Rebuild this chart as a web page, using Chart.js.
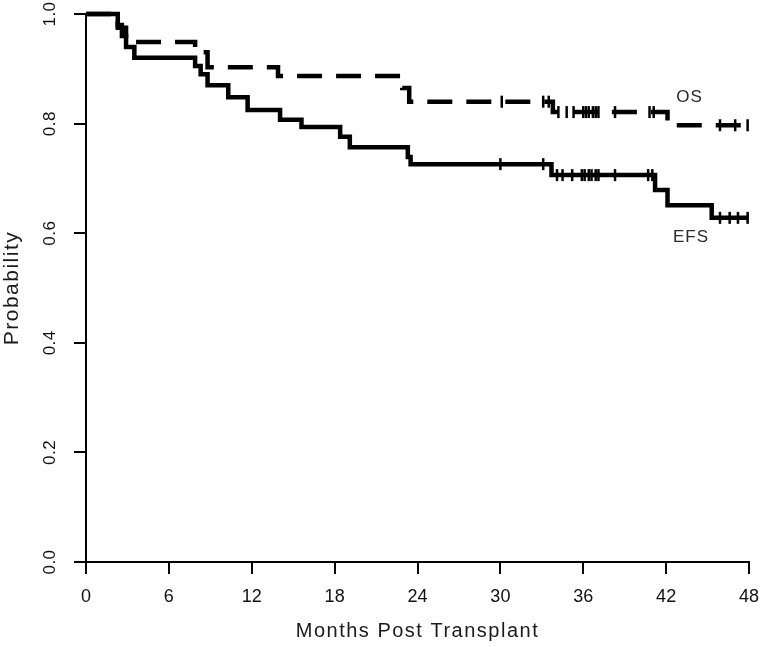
<!DOCTYPE html>
<html>
<head>
<meta charset="utf-8">
<script src="https://cdn.jsdelivr.net/npm/chart.js@4/dist/chart.umd.min.js"></script>
<style>
  html, body { margin: 0; padding: 0; background: #ffffff; }
  #c { display: block; }
</style>
</head>
<body>
<canvas id="c" width="760" height="647"></canvas>
<script>
// ---- Data (months, survival probability) ----
const efsTimes = [0, 2.3, 2.6, 2.9, 3.5, 7.9, 8.3, 8.8, 10.3, 11.7, 14.05, 15.6, 18.4, 19.1, 23.3, 23.5, 33.7, 41.2, 42.1, 45.3, 48];
const efsSurv  = [1.0, 0.98, 0.96, 0.94, 0.92, 0.905, 0.89, 0.87, 0.848, 0.825, 0.807, 0.794, 0.776, 0.757, 0.739, 0.726, 0.706, 0.679, 0.651, 0.628, 0.628];
const osTimes  = [0, 2.3, 2.9, 7.9, 8.8, 13.9, 22.9, 23.4, 33.8, 42.1, 48];
const osSurv   = [1.0, 0.975, 0.949, 0.93, 0.903, 0.887, 0.865, 0.84, 0.821, 0.797, 0.797];
const efsCensor = [30.0, 33.1, 34.1, 34.5, 35.2, 35.9, 36.1, 36.4, 36.6, 36.9, 37.1, 38.3, 40.7, 41.0, 45.9, 46.6, 47.2, 47.9];
const osCensor  = [30.1, 33.1, 33.5, 34.2, 34.8, 35.3, 36.0, 36.2, 36.4, 36.7, 36.9, 37.1, 38.3, 40.8, 41.1, 45.9, 47.0, 47.9];
const xTicks = [0, 6, 12, 18, 24, 30, 36, 42, 48];
const yTickValues = [0.0, 0.2, 0.4, 0.6, 0.8, 1.0];
const yTickLabels = ['0.0', '0.2', '0.4', '0.6', '0.8', '1.0'];
const curveLabels = ['OS', 'EFS'];
const xTitle = 'Months Post Transplant';
const yTitle = 'Probability';

function stepPoints(times, surv) {
  return times.map((t, i) => ({ x: t, y: surv[i] }));
}
function survAt(times, surv, t) {
  let v = surv[0];
  for (let i = 0; i < times.length; i++) { if (times[i] <= t) v = surv[i]; }
  return v;
}
function censorPoints(cens, times, surv) {
  return cens.map(t => ({ x: t, y: survAt(times, surv, t) }));
}

const FONT = "'Liberation Sans', Arial, Helvetica, sans-serif";

const textPlugin = {
  id: 'textPlugin',
  beforeDraw(chart) {
    chart.ctx.letterSpacing = '1.5px';
  },
  beforeDatasetsDraw(chart) {
    chart.ctx.letterSpacing = '0px';
  },
  afterDraw(chart) {
    const ctx = chart.ctx;
    const ys = chart.scales.y;
    const xs = chart.scales.x;
    ctx.save();
    ctx.letterSpacing = '0.5px';
    ctx.fillStyle = '#111111';
    ctx.font = '17px ' + FONT;
    ctx.textAlign = 'center';
    ctx.textBaseline = 'middle';
    yTickValues.forEach((v, i) => {
      const py = ys.getPixelForValue(v);
      ctx.save();
      ctx.translate(50, py);
      ctx.rotate(-Math.PI / 2);
      ctx.fillText(yTickLabels[i], 0, 0);
      ctx.restore();
    });
    // Curve labels
    ctx.fillStyle = '#2a2a2a';
    ctx.font = '17px ' + FONT;
    ctx.letterSpacing = '1px';
    ctx.fillText(curveLabels[0], xs.getPixelForValue(43.7), ys.getPixelForValue(0.848));
    ctx.fillText(curveLabels[1], xs.getPixelForValue(43.8), ys.getPixelForValue(0.593));
    ctx.restore();
  }
};

new Chart(document.getElementById('c'), {
  type: 'scatter',
  data: {
    datasets: [
      {
        label: 'OS',
        data: stepPoints(osTimes, osSurv),
        showLine: true,
        stepped: true,
        borderColor: '#000000',
        borderWidth: 4.5,
        borderDash: [25, 14],
        borderCapStyle: 'butt',
        pointRadius: 0,
        fill: false,
        clip: false
      },
      {
        label: 'EFS',
        data: stepPoints(efsTimes, efsSurv),
        showLine: true,
        stepped: true,
        borderColor: '#000000',
        borderWidth: 4.5,
        pointRadius: 0,
        fill: false,
        clip: false
      },
      {
        label: 'OS censored',
        data: censorPoints(osCensor, osTimes, osSurv),
        showLine: false,
        pointStyle: 'line',
        rotation: 90,
        pointRadius: 6,
        borderColor: '#000000',
        borderWidth: 2.5,
        clip: false
      },
      {
        label: 'EFS censored',
        data: censorPoints(efsCensor, efsTimes, efsSurv),
        showLine: false,
        pointStyle: 'line',
        rotation: 90,
        pointRadius: 6,
        borderColor: '#000000',
        borderWidth: 2.5,
        clip: false
      }
    ]
  },
  options: {
    responsive: false,
    animation: false,
    events: [],
    layout: { padding: { top: 14, right: 11, left: 0, bottom: 0 } },
    plugins: {
      legend: { display: false },
      tooltip: { enabled: false },
      title: { display: false }
    },
    scales: {
      x: {
        type: 'linear',
        min: 0,
        max: 48,
        afterBuildTicks(scale) { scale.ticks = xTicks.map(v => ({ value: v })); },
        afterFit(scale) { scale.height = 85; scale.paddingLeft = 0; scale.paddingRight = 0; },
        ticks: {
          z: 1,
          color: '#111111',
          font: { family: FONT, size: 18 },
          padding: 12,
          maxRotation: 0,
          autoSkip: false
        },
        grid: {
          drawOnChartArea: false,
          drawTicks: true,
          tickLength: 12,
          color: '#000000',
          lineWidth: 2
        },
        border: { display: true, color: '#000000', width: 2 },
        title: {
          display: true,
          text: xTitle,
          color: '#1a1a1a',
          font: { family: FONT, size: 20 },
          padding: { top: 4, bottom: 4 }
        }
      },
      y: {
        type: 'linear',
        min: 0,
        max: 1,
        afterBuildTicks(scale) { scale.ticks = yTickValues.map(v => ({ value: v })); },
        afterFit(scale) { scale.width = 86; scale.paddingTop = 0; scale.paddingBottom = 0; },
        ticks: { display: false },
        grid: {
          drawOnChartArea: false,
          drawTicks: true,
          tickLength: 12,
          color: '#000000',
          lineWidth: 2
        },
        border: { display: true, color: '#000000', width: 2 },
        title: {
          display: true,
          text: yTitle,
          color: '#1a1a1a',
          font: { family: FONT, size: 21 },
          padding: { top: 0, bottom: 0 }
        }
      }
    }
  },
  plugins: [textPlugin]
});
</script>
</body>
</html>
